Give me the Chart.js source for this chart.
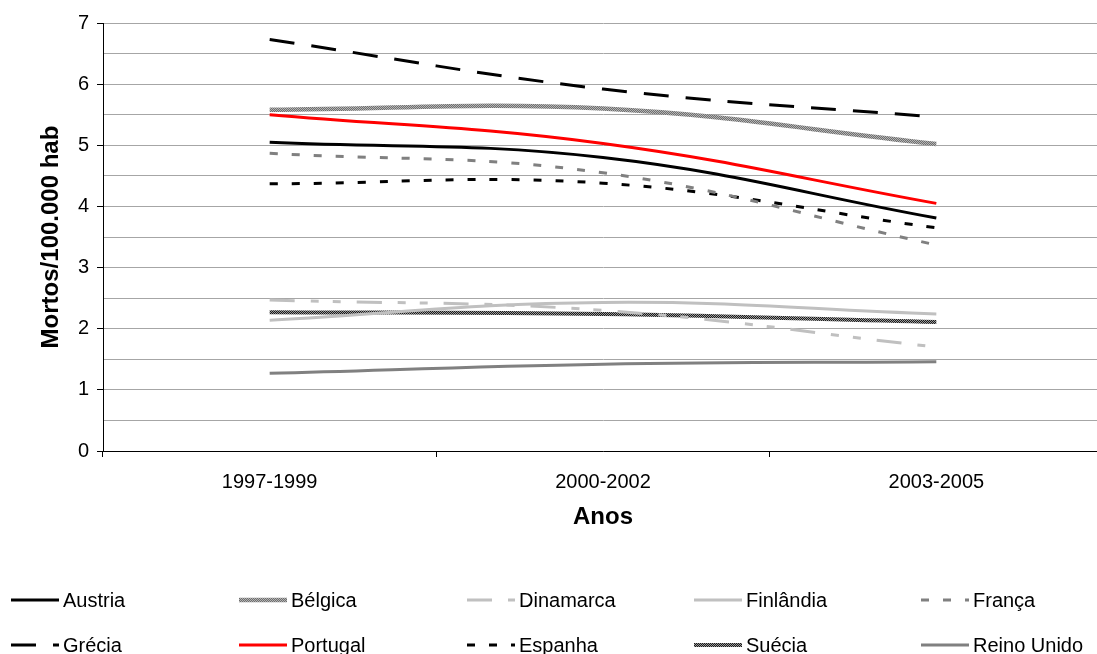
<!DOCTYPE html>
<html>
<head>
<meta charset="utf-8">
<script src="https://cdn.jsdelivr.net/npm/chart.js@4.4.1/dist/chart.umd.min.js"></script>
<style>
  html, body { margin: 0; padding: 0; background: #fff; overflow: hidden; }
  #wrap { position: relative; width: 1103px; height: 654px; }
</style>
</head>
<body>
<div id="wrap"><canvas id="c" width="1103" height="654"></canvas></div>
<script>
// Periods on the category axis
const periods = ['1997-1999', '2000-2002', '2003-2005'];

// Deaths per 100.000 inhabitants, one array per country
const austria    = [5.05, 4.80, 3.81];
const belgica    = [5.58, 5.60, 5.02];
const dinamarca  = [2.47, 2.30, 1.70];
const finlandia  = [2.14, 2.43, 2.24];
const franca     = [4.87, 4.55, 3.37];
const grecia     = [6.73, 5.92, 5.46];
const portugal   = [5.50, 5.03, 4.05];
const espanha    = [4.37, 4.38, 3.65];
const suecia     = [2.27, 2.24, 2.11];
const reinoUnido = [1.27, 1.42, 1.46];

// Y-axis range and spacing
const yMin = 0, yMax = 7, yStep = 0.5;

const canvas = document.getElementById('c');
const ctx0 = canvas.getContext('2d');

// Fine two-tone stipple used for the textured lines
function stipple(a, b) {
  const t = document.createElement('canvas');
  t.width = 2; t.height = 2;
  const g = t.getContext('2d');
  g.fillStyle = a; g.fillRect(0, 0, 2, 2);
  g.fillStyle = b; g.fillRect(0, 0, 1, 1); g.fillRect(1, 1, 1, 1);
  return ctx0.createPattern(t, 'repeat');
}

const FONT = "'Liberation Sans', Arial, sans-serif";

function series(label, data, color, width, dash) {
  return {
    label, data,
    borderColor: color,
    backgroundColor: color,
    borderWidth: width,
    borderDash: dash || [],
    pointRadius: 0,
    pointHoverRadius: 0,
    tension: 0.4,
    fill: false
  };
}

const datasets = [
  series('Austria',     austria,    '#000000', 3),
  series('Bélgica',     belgica,    stipple('#6e6e6e', '#b4b4b4'), 4.5),
  series('Dinamarca',   dinamarca,  '#c0c0c0', 3, [25, 16, 8, 14, 8, 16]),
  series('Finlândia',   finlandia,  '#c0c0c0', 3),
  series('França',      franca,     '#808080', 3, [8, 14]),
  series('Grécia',      grecia,     '#000000', 3, [25, 17]),
  series('Portugal',    portugal,   '#ff0000', 3),
  series('Espanha',     espanha,    '#000000', 3, [8, 14]),
  series('Suécia',      suecia,     stipple('#1a1a1a', '#9a9a9a'), 4),
  series('Reino Unido', reinoUnido, '#808080', 3)
];

// Two-row, five-column legend under the plot
const gridLegend = {
  id: 'gridLegend',
  afterDraw(chart) {
    const ctx = chart.ctx;
    const cols = [11, 239, 467, 694, 921];
    const rows = [600, 645];
    const sampleLen = 48;
    ctx.save();
    ctx.font = '20px ' + FONT;
    ctx.textBaseline = 'middle';
    ctx.textAlign = 'left';
    chart.data.datasets.forEach((ds, i) => {
      const x = cols[i % 5];
      const y = rows[Math.floor(i / 5)];
      ctx.save();
      ctx.strokeStyle = ds.borderColor;
      ctx.lineWidth = ds.borderWidth;
      ctx.lineCap = 'butt';
      ctx.setLineDash(ds.borderDash || []);
      ctx.beginPath();
      ctx.moveTo(x, y);
      ctx.lineTo(x + sampleLen, y);
      ctx.stroke();
      ctx.restore();
      ctx.fillStyle = '#000';
      ctx.fillText(ds.label, x + 52, y + 1);
    });
    ctx.restore();
  }
};

new Chart(canvas, {
  type: 'line',
  data: { labels: periods, datasets },
  plugins: [gridLegend],
  options: {
    responsive: false,
    animation: false,
    devicePixelRatio: 1,
    layout: { padding: { top: 23, bottom: 94, left: 0, right: 0 } },
    plugins: {
      legend: { display: false },
      tooltip: { enabled: false }
    },
    scales: {
      x: {
        type: 'category',
        offset: true,
        afterFit(scale) { scale.height = 109; },
        grid: {
          display: true,
          offset: true,
          drawOnChartArea: false,
          drawTicks: true,
          tickLength: 6,
          tickColor: '#000'
        },
        border: { color: '#000', width: 1 },
        ticks: {
          color: '#000',
          padding: 13,
          font: { family: FONT, size: 20 }
        },
        title: {
          display: true,
          text: 'Anos',
          color: '#000',
          padding: { top: 0, bottom: 28.6 },
          font: { family: FONT, size: 24, weight: 'bold' }
        }
      },
      y: {
        min: yMin,
        max: yMax,
        afterFit(scale) { scale.width = 103; },
        grid: {
          color: '#a6a6a6',
          lineWidth: 1,
          tickLength: 6,
          tickColor: (c) => Number.isInteger(c.tick && c.tick.value) ? '#000' : 'rgba(0,0,0,0)'
        },
        border: { color: '#000', width: 1 },
        ticks: {
          stepSize: yStep,
          autoSkip: false,
          color: '#000',
          padding: 8,
          font: { family: FONT, size: 20 },
          callback: (v) => Number.isInteger(v) ? String(v) : ''
        },
        title: {
          display: true,
          text: 'Mortos/100.000 hab',
          color: '#000',
          padding: { top: 37, bottom: 0 },
          font: { family: FONT, size: 24, weight: 'bold' }
        }
      }
    }
  }
});
</script>
</body>
</html>
